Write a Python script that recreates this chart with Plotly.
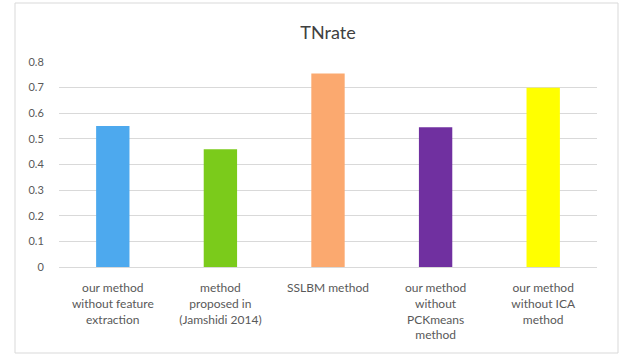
import plotly.graph_objects as go

categories = [
    "our method<br>without feature<br>extraction",
    "method<br>proposed in<br>(Jamshidi 2014)",
    "SSLBM method",
    "our method<br>without<br>PCKmeans<br>method",
    "our method<br>without ICA<br>method",
]
tn_rate = [0.55, 0.46, 0.755, 0.545, 0.70]
bar_colors = ["#4DA9EE", "#7BCB1B", "#FBA96F", "#7030A0", "#FFFF00"]
y_ticks = [0, 0.1, 0.2, 0.3, 0.4, 0.5, 0.6, 0.7, 0.8]
y_tick_text = ["0", "0.1", "0.2", "0.3", "0.4", "0.5", "0.6", "0.7", "0.8"]

W, H = 624, 360
L, R, T, B = 59, 27, 62, 93

fig = go.Figure(
    go.Bar(
        x=categories,
        y=tn_rate,
        marker=dict(color=bar_colors, line=dict(width=0)),
        width=0.31,
    )
)

# light frame around the whole chart area
def px_x(v):
    return (v - L) / (W - L - R)

def px_y(v):
    return (H - B - v) / (H - T - B)

fig.add_shape(
    type="rect", xref="paper", yref="paper",
    x0=px_x(15), x1=px_x(618), y0=px_y(353), y1=px_y(3),
    line=dict(color="#D9D9D9", width=1), fillcolor="rgba(0,0,0,0)", layer="below",
)

fig.update_layout(
    width=W, height=H,
    margin=dict(l=L, r=R, t=T, b=B, pad=0),
    paper_bgcolor="white", plot_bgcolor="white",
    showlegend=False,
    font=dict(family="Lato, Carlito, sans-serif", color="#595959", size=12),
    title=dict(
        text="TNrate", x=0.5, xref="paper", xanchor="center",
        y=1 - 33 / H, yanchor="middle",
        font=dict(size=18, color="#404040"),
    ),
    bargap=0.69,
)
fig.update_xaxes(
    showgrid=False, showline=True, linecolor="#D9D9D9", linewidth=1,
    ticks="outside", ticklen=10, tickcolor="rgba(0,0,0,0)",
    tickfont=dict(size=12, color="#595959"), tickangle=0,
)
fig.update_yaxes(
    range=[0, 0.8], tickvals=y_ticks, ticktext=y_tick_text,
    showgrid=True, gridcolor="#D9D9D9", gridwidth=1,
    zeroline=False, showline=False,
    ticks="outside", ticklen=12, tickcolor="rgba(0,0,0,0)",
    tickfont=dict(size=11, color="#595959"),
)

fig.write_html("out.html")
